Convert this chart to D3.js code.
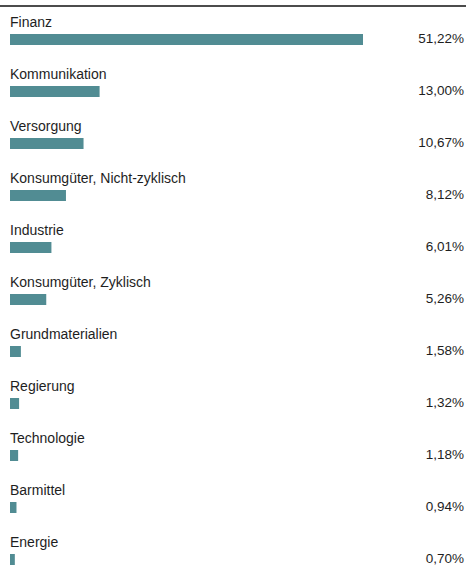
<!DOCTYPE html>
<html>
<head>
<meta charset="utf-8">
<script src="https://cdn.jsdelivr.net/npm/d3@7"></script>
<style>
  body { margin: 0; background: #fff; }
  svg { display: block; }
</style>
</head>
<body>
<svg id="chart"></svg>
<script>
// Sector weights (in percent)
const categories = ["Finanz", "Kommunikation", "Versorgung", "Konsumgüter, Nicht-zyklisch", "Industrie",
    "Konsumgüter, Zyklisch", "Grundmaterialien", "Regierung", "Technologie", "Barmittel", "Energie"];
const weights = [51.22, 13.00, 10.67, 8.12, 6.01, 5.26, 1.58, 1.32, 1.18, 0.94, 0.70];
const weight_labels = ["51,22%", "13,00%", "10,67%", "8,12%", "6,01%", "5,26%", "1,58%", "1,32%", "1,18%", "0,94%", "0,70%"];

const data = categories.map((c, i) => ({ category: c, value: weights[i], label: weight_labels[i] }));

// Chart dimensions
const width = 466, height = 565;
const margins = { top: 34, left: 10, right: 2 };
const row_step = 52, bar_height = 11;

const svg = d3.select("#chart")
    .attr("width", width)
    .attr("height", height);

// Scales
const x_scale = d3.scaleLinear()
    .domain([0, 51.22])
    .range([0, 353]);
const y_scale = d3.scaleBand()
    .domain(categories)
    .range([margins.top, margins.top + row_step * categories.length]);

// Top rule
svg.append("line")
    .attr("x1", 0)
    .attr("x2", width)
    .attr("y1", 6)
    .attr("y2", 6)
    .attr("stroke", "#111")
    .attr("stroke-width", 1.5);

const rows = svg.selectAll(".row")
    .data(data)
    .enter()
    .append("g")
    .attr("class", "row")
    .attr("transform", d => `translate(0, ${y_scale(d.category)})`);

// Bars
rows.append("rect")
    .attr("x", margins.left)
    .attr("y", 0)
    .attr("width", d => x_scale(d.value))
    .attr("height", bar_height)
    .attr("fill", "#518c93");

// Category labels above the bars
rows.append("text")
    .attr("x", margins.left)
    .attr("y", -7)
    .text(d => d.category)
    .style("font-family", "'Liberation Sans', Arial, sans-serif")
    .style("font-size", "14px")
    .style("fill", "#1e1e1e");

// Percent values on the right
rows.append("text")
    .attr("x", width - margins.right)
    .attr("y", bar_height - 2)
    .attr("text-anchor", "end")
    .text(d => d.label)
    .style("font-family", "'Liberation Sans', Arial, sans-serif")
    .style("font-size", "13.5px")
    .style("fill", "#1e1e1e");
</script>
</body>
</html>
